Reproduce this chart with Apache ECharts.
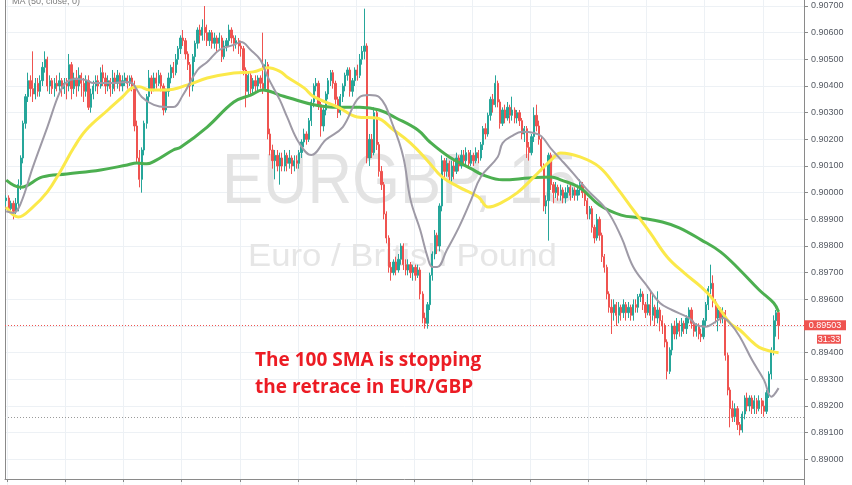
<!DOCTYPE html>
<html><head><meta charset="utf-8">
<script src="https://cdn.jsdelivr.net/npm/echarts@6/dist/echarts.min.js"></script>
<style>html,body{margin:0;padding:0;background:#fff}#c{width:852px;height:485px}</style>
</head><body><div id="c"></div>
<script>
// candles: [open, close, low, high]
const ohlc = [
[.8997,.8998,.8995,.8999],[.8998,.8994,.8993,.8999],[.8994,.8996,.8992,.8997],[.8996,.8993,.8990,.8997],[.8993,.8996,.8992,.8998],
[.8996,.9003,.8993,.9005],[.9003,.9013,.9001,.9014],[.9013,.9026,.9011,.9027],[.9026,.9036,.9024,.9037],[.9036,.9042,.9034,.9045],
[.9042,.9039,.9036,.9044],[.9039,.9037,.9034,.9053],[.9037,.9041,.9035,.9043],[.9041,.9038,.9036,.9043],[.9038,.9042,.9036,.9044],
[.9042,.9047,.9040,.9049],[.9047,.9050,.9045,.9053],[.9050,.9040,.9038,.9051],[.9040,.9042,.9037,.9044],[.9042,.9039,.9037,.9043],
[.9039,.9041,.9036,.9043],[.9041,.9040,.9038,.9044],[.9040,.9042,.9038,.9045],[.9042,.9039,.9036,.9043],[.9039,.9041,.9037,.9043],
[.9041,.9040,.9035,.9043],[.9040,.9048,.9038,.9052],[.9048,.9039,.9035,.9049],[.9039,.9043,.9037,.9045],[.9043,.9040,.9036,.9046],
[.9040,.9044,.9038,.9047],[.9044,.9041,.9036,.9045],[.9041,.9038,.9034,.9043],[.9038,.9042,.9036,.9044],[.9042,.9032,.9031,.9044],
[.9032,.9037,.9030,.9039],[.9037,.9040,.9035,.9042],[.9040,.9042,.9038,.9044],[.9042,.9040,.9037,.9044],[.9040,.9045,.9039,.9047],
[.9045,.9043,.9040,.9048],[.9043,.9040,.9037,.9045],[.9040,.9042,.9038,.9044],[.9042,.9039,.9036,.9043],[.9039,.9043,.9037,.9046],
[.9043,.9041,.9038,.9045],[.9041,.9044,.9039,.9046],[.9044,.9040,.9038,.9045],[.9040,.9042,.9038,.9044],[.9042,.9043,.9040,.9045],
[.9043,.9041,.9039,.9044],[.9041,.9043,.9040,.9044],[.9043,.9040,.9038,.9044],[.9040,.9025,.9023,.9042],[.9025,.9013,.9011,.9027],
[.9013,.9005,.9002,.9016],[.9005,.9016,.9000,.9017],[.9016,.9026,.9014,.9027],[.9026,.9036,.9024,.9037],[.9036,.9043,.9034,.9046],
[.9043,.9039,.9037,.9044],[.9039,.9043,.9038,.9045],[.9043,.9041,.9039,.9045],[.9041,.9044,.9040,.9046],[.9044,.9040,.9038,.9045],
[.9040,.9031,.9029,.9041],[.9031,.9038,.9030,.9039],[.9038,.9043,.9036,.9045],[.9043,.9047,.9041,.9048],[.9047,.9045,.9043,.9049],
[.9045,.9050,.9044,.9052],[.9050,.9054,.9048,.9055],[.9054,.9058,.9052,.9059],[.9058,.9057,.9055,.9061],[.9057,.9052,.9050,.9058],
[.9052,.9048,.9046,.9053],[.9048,.9040,.9036,.9049],[.9040,.9051,.9038,.9052],[.9051,.9056,.9049,.9057],[.9056,.9061,.9054,.9062],
[.9061,.9059,.9056,.9063],[.9059,.9062,.9057,.9065],[.9062,.9060,.9057,.9070],[.9060,.9057,.9055,.9063],[.9057,.9060,.9055,.9061],
[.9060,.9056,.9054,.9061],[.9056,.9058,.9054,.9060],[.9058,.9056,.9053,.9059],[.9056,.9058,.9054,.9060],[.9058,.9051,.9049,.9059],
[.9051,.9055,.9050,.9057],[.9055,.9057,.9053,.9058],[.9057,.9061,.9055,.9063],[.9061,.9058,.9056,.9062],[.9058,.9056,.9053,.9059],
[.9056,.9057,.9054,.9059],[.9057,.9055,.9052,.9058],[.9055,.9054,.9051,.9057],[.9054,.9046,.9044,.9055],[.9046,.9038,.9032,.9047],
[.9038,.9044,.9036,.9045],[.9044,.9039,.9037,.9045],[.9039,.9042,.9037,.9043],[.9042,.9040,.9038,.9044],[.9040,.9043,.9038,.9044],
[.9043,.9041,.9039,.9044],[.9041,.9039,.9037,.9060],[.9039,.9048,.9038,.9050],[.9048,.9022,.9020,.9049],[.9022,.9016,.9014,.9024],
[.9016,.9012,.9009,.9018],[.9012,.9014,.9005,.9016],[.9014,.9010,.9008,.9016],[.9010,.9013,.9003,.9015],[.9013,.9010,.9008,.9015],
[.9010,.9014,.9008,.9016],[.9014,.9011,.9008,.9015],[.9011,.9013,.9009,.9016],[.9013,.9010,.9007,.9014],[.9010,.9012,.9008,.9014],
[.9012,.9011,.9009,.9014],[.9011,.9015,.9009,.9016],[.9015,.9019,.9013,.9020],[.9019,.9022,.9017,.9024],[.9022,.9020,.9018,.9023],
[.9020,.9027,.9019,.9028],[.9027,.9034,.9025,.9035],[.9034,.9040,.9032,.9041],[.9040,.9041,.9038,.9043],[.9041,.9033,.9031,.9042],
[.9033,.9025,.9021,.9034],[.9025,.9031,.9023,.9032],[.9031,.9037,.9029,.9038],[.9037,.9042,.9035,.9043],[.9042,.9045,.9040,.9046],
[.9045,.9041,.9039,.9046],[.9041,.9035,.9033,.9042],[.9035,.9030,.9028,.9036],[.9030,.9036,.9029,.9037],[.9036,.9040,.9034,.9041],
[.9040,.9044,.9038,.9045],[.9044,.9046,.9042,.9047],[.9046,.9038,.9036,.9047],[.9038,.9042,.9036,.9043],[.9042,.9046,.9040,.9047],
[.9046,.9044,.9042,.9048],[.9044,.9050,.9043,.9052],[.9050,.9053,.9048,.9055],[.9053,.9055,.9050,.9069],[.9055,.9013,.9011,.9056],
[.9013,.9020,.9010,.9022],[.9020,.9015,.9013,.9022],[.9015,.9030,.9014,.9032],[.9030,.9018,.9016,.9031],[.9018,.9008,.9006,.9019],
[.9008,.9003,.9001,.9010],[.9003,.8992,.8990,.9004],[.8992,.8983,.8981,.8993],[.8983,.8972,.8970,.8984],[.8972,.8970,.8967,.8974],
[.8970,.8974,.8969,.8975],[.8974,.8971,.8969,.8976],[.8971,.8975,.8970,.8977],[.8975,.8980,.8973,.8981],[.8980,.8973,.8971,.8981],
[.8973,.8971,.8969,.8975],[.8971,.8973,.8969,.8975],[.8973,.8970,.8968,.8974],[.8970,.8972,.8967,.8973],[.8972,.8969,.8967,.8973],
[.8969,.8971,.8968,.8973],[.8971,.8962,.8960,.8972],[.8962,.8953,.8951,.8963],[.8953,.8951,.8949,.8955],[.8951,.8958,.8949,.8959],
[.8958,.8969,.8956,.8970],[.8969,.8977,.8967,.8978],[.8977,.8984,.8975,.8986],[.8984,.8980,.8977,.8985],[.8980,.8995,.8978,.8996],
[.8995,.9012,.8993,.9014],[.9012,.9008,.9005,.9013],[.9008,.9011,.9006,.9013],[.9011,.9006,.9004,.9012],[.9006,.9010,.9004,.9012],
[.9010,.9008,.9005,.9012],[.9008,.9013,.9007,.9015],[.9013,.9010,.9008,.9014],[.9010,.9014,.9009,.9016],[.9014,.9012,.9010,.9016],
[.9012,.9015,.9010,.9017],[.9015,.9011,.9009,.9016],[.9011,.9014,.9010,.9016],[.9014,.9012,.9010,.9015],[.9012,.9015,.9011,.9017],
[.9015,.9013,.9011,.9016],[.9013,.9018,.9012,.9019],[.9018,.9024,.9016,.9025],[.9024,.9022,.9020,.9026],[.9022,.9029,.9021,.9030],
[.9029,.9035,.9027,.9036],[.9035,.9033,.9030,.9037],[.9033,.9041,.9032,.9044],[.9041,.9034,.9032,.9042],[.9034,.9026,.9024,.9035],
[.9026,.9031,.9025,.9032],[.9031,.9028,.9026,.9033],[.9028,.9032,.9027,.9034],[.9032,.9029,.9026,.9033],[.9029,.9031,.9027,.9036],
[.9031,.9028,.9026,.9032],[.9028,.9030,.9026,.9031],[.9030,.9027,.9025,.9031],[.9027,.9022,.9020,.9028],[.9022,.9024,.9019,.9025],
[.9024,.9017,.9013,.9025],[.9017,.9015,.9012,.9019],[.9015,.9021,.9014,.9022],[.9021,.9029,.9019,.9032],[.9029,.9025,.9023,.9033],
[.9025,.9020,.9018,.9027],[.9020,.9010,.9008,.9021],[.9010,.8995,.8993,.9011],[.8995,.8997,.8992,.8999],[.8997,.9014,.8982,.9015],
[.9014,.9003,.9001,.9015],[.9003,.9000,.8996,.9004],[.9000,.9002,.8998,.9004],[.9002,.8999,.8997,.9003],[.8999,.9001,.8997,.9003],
[.9001,.8998,.8996,.9002],[.8998,.9000,.8996,.9002],[.9000,.9002,.8998,.9003],[.9002,.8999,.8997,.9003],[.8999,.9001,.8998,.9002],
[.9001,.8999,.8997,.9002],[.8999,.9001,.8997,.9003],[.9001,.9003,.8999,.9005],[.9003,.9000,.8998,.9004],[.9000,.8997,.8995,.9001],
[.8997,.8992,.8990,.8998],[.8992,.8994,.8990,.8995],[.8994,.8987,.8985,.8995],[.8987,.8983,.8981,.8988],[.8983,.8990,.8982,.8992],
[.8990,.8984,.8982,.8991],[.8984,.8976,.8974,.8985],[.8976,.8972,.8970,.8977],[.8972,.8962,.8960,.8973],[.8962,.8957,.8955,.8963],
[.8957,.8955,.8947,.8960],[.8955,.8958,.8952,.8960],[.8958,.8954,.8950,.8959],[.8954,.8957,.8951,.8959],[.8957,.8955,.8952,.8958],
[.8955,.8958,.8953,.8960],[.8958,.8955,.8952,.8959],[.8955,.8957,.8953,.8959],[.8957,.8954,.8952,.8958],[.8954,.8958,.8952,.8960],
[.8958,.8957,.8955,.8960],[.8957,.8961,.8955,.8962],[.8961,.8962,.8959,.8964],[.8962,.8958,.8956,.8963],[.8958,.8955,.8953,.8959],
[.8955,.8958,.8954,.8962],[.8958,.8954,.8950,.8963],[.8954,.8957,.8952,.8962],[.8957,.8953,.8950,.8958],[.8953,.8956,.8951,.8963],
[.8956,.8952,.8948,.8957],[.8952,.8950,.8947,.8954],[.8950,.8944,.8942,.8951],[.8944,.8933,.8930,.8945],[.8933,.8941,.8932,.8942],
[.8941,.8950,.8939,.8951],[.8950,.8947,.8945,.8952],[.8947,.8951,.8945,.8953],[.8951,.8948,.8946,.8952],[.8948,.8951,.8946,.8953],
[.8951,.8949,.8947,.8952],[.8949,.8953,.8947,.8954],[.8953,.8956,.8951,.8957],[.8956,.8951,.8949,.8957],[.8951,.8948,.8946,.8952],
[.8948,.8950,.8946,.8951],[.8950,.8947,.8945,.8951],[.8947,.8946,.8944,.8949],[.8946,.8952,.8945,.8953],[.8952,.8958,.8950,.8959],
[.8958,.8964,.8956,.8965],[.8964,.8966,.8962,.8973],[.8966,.8959,.8957,.8969],[.8959,.8953,.8951,.8960],[.8953,.8956,.8948,.8957],
[.8956,.8953,.8951,.8957],[.8953,.8955,.8951,.8957],[.8955,.8939,.8937,.8956],[.8939,.8926,.8924,.8940],[.8926,.8919,.8912,.8927],
[.8919,.8916,.8914,.8922],[.8916,.8919,.8914,.8921],[.8919,.8913,.8911,.8920],[.8913,.8911,.8909,.8914],[.8911,.8917,.8910,.8918],
[.8917,.8923,.8915,.8924],[.8923,.8920,.8918,.8925],[.8920,.8923,.8918,.8924],[.8923,.8919,.8917,.8924],[.8919,.8922,.8917,.8924],
[.8922,.8919,.8917,.8923],[.8919,.8922,.8918,.8924],[.8922,.8920,.8917,.8923],[.8920,.8918,.8916,.8922],[.8918,.8925,.8917,.8926],
[.8925,.8932,.8923,.8933],[.8932,.8941,.8930,.8942],[.8941,.8952,.8939,.8954],[.8952,.8955,.8946,.8956],[.8955,.89503,.8945,.8956]
];
const slotCount = 330; // 15-minute slots on the time axis (last ones empty)

// moving averages: [slot index, value]
const maShort = [[0,.8993],[3,.89924],[6,.8996],[11,.90096],[17,.90246],[22,.90374],[25,.90415],[29,.90426],[33,.90422],[36,.90411],
[43,.90411],[50,.90415],[52,.90411],[56,.90359],[61,.90329],[66,.90321],[69,.90321],[73,.90366],[79,.9046],[83,.9049],
[88,.90535],[94,.90554],[97,.90565],[101,.90535],[105,.90498],[108,.90434],[113,.90348],[116,.90284],[121,.90186],[126,.90141],
[132,.90198],[139,.90246],[146,.90359],[150,.90366],[154,.90359],[160,.90246],[164,.90134],[167,.89973],[171,.8986],[174,.89759],
[176,.89721],[178,.89721],[182,.89785],[187,.89871],[192,.89973],[196,.90059],[203,.90134],[205,.90186],[209,.90213],[213,.90228],
[218,.90224],[221,.90212],[225,.90165],[229,.90125],[234,.90074],[240,.9001],[248,.89935],[254,.89834],[259,.89721],[265,.89646],
[270,.89586],[275,.8956],[282,.8953],[285,.89504],[289,.89497],[292,.8951],[296,.8953],[299,.8951],[303,.8946],[308,.89373],
[313,.89297],[316,.89235],[319,.89267]];
const ma50 = [[0,.89946],[5,.89909],[11,.89946],[17,.90003],[22,.90074],[28,.9017],[33,.90235],[42,.9031],[48,.90359],[52,.90393],
[55,.90397],[59,.90385],[66,.90385],[75,.90404],[83,.9043],[94,.90449],[102,.90453],[108,.90468],[113,.90455],[116,.90434],
[123,.90393],[127,.9036],[137,.90321],[145,.90284],[153,.9028],[160,.90235],[167,.90186],[174,.9012],[180,.90059],[187,.90021],
[195,.89984],[199,.89946],[204,.8996],[211,.89999],[218,.90059],[225,.90122],[229,.90149],[237,.90134],[245,.90096],[252,.90021],
[259,.89935],[266,.89849],[273,.89759],[280,.89699],[287,.89647],[291,.8961],[295,.8956],[299,.8951],[303,.89485],[307,.8945],
[311,.8942],[316,.89405],[319,.894]];
const ma100 = [[0,.90047],[6,.9002],[15,.90059],[25,.9007],[39,.90085],[50,.90104],[54,.90111],[58,.90108],[62,.90122],[69,.9016],
[72,.9017],[83,.90246],[94,.9034],[101,.90366],[106,.90385],[113,.90366],[117,.90355],[127,.9033],[137,.9032],[146,.9032],
[154,.9031],[161,.9028],[170,.90235],[175,.9019],[183,.90134],[192,.9009],[197,.90066],[205,.90048],[216,.90055],[225,.90059],
[229,.90048],[237,.90018],[245,.89954],[254,.89916],[262,.89905],[271,.8989],[278,.89868],[287,.89823],[295,.89778],[303,.8971],
[311,.89635],[317,.89586],[319,.89553]];

const lastPrice = 0.89503;
const refLevel = 0.89158;
const countdown = '31:33';
const yMin = 0.889, yMax = 0.908, yStep = 0.001;
const labelMin = 0.8895, labelMax = 0.9075; // labels that fall inside the visible window
const headerText = 'MA (50, close, 0)';
const watermark = 'EURGBP, 15';
const subtitle = 'Euro / British Pound';
const noteLines = ['The 100 SMA is stopping', 'the retrace in EUR/GBP'];

const cats = Array.from({length: slotCount}, (_, i) => String(i));
const gridColor = '#edf1f5';
const axisColor = '#8a8a8a';
const up = '#26a69a', down = '#ef5350';

const chart = echarts.init(document.getElementById('c'), null, {renderer: 'canvas'});
const option = {
  animation: false,
  backgroundColor: '#ffffff',
  grid: [
    {left: 5, right: 48, top: -20.665, height: 506.65, outerBoundsMode: 'none', containLabel: false},
    {left: 5, right: 48, top: 0, height: 479, outerBoundsMode: 'none', containLabel: false}
  ],
  xAxis: [
    {type: 'category', gridIndex: 0, data: cats, boundaryGap: true,
     axisLine: {show: false}, axisTick: {show: false}, axisLabel: {show: false},
     splitLine: {show: true, interval: (i) => i % 24 === 1, lineStyle: {color: gridColor, width: 1}}},
    {type: 'category', gridIndex: 1, data: cats, boundaryGap: true,
     axisLine: {show: true, onZero: false, lineStyle: {color: axisColor}},
     axisTick: {show: true, length: 3, interval: (i) => i % 24 === 1, lineStyle: {color: axisColor}},
     axisLabel: {show: false}, splitLine: {show: false}}
  ],
  yAxis: [
    {type: 'value', gridIndex: 0, position: 'right', min: yMin, max: yMax, interval: yStep,
     axisLine: {show: true, lineStyle: {color: axisColor}},
     axisTick: {show: true, length: 4, lineStyle: {color: axisColor}},
     axisLabel: {margin: 7, color: '#555a63', fontSize: 9, fontFamily: 'Liberation Sans',
                 formatter: (v) => (v < labelMin || v > labelMax) ? '' : v.toFixed(5)},
     splitLine: {show: true, lineStyle: {color: gridColor, width: 1}}},
    {type: 'value', gridIndex: 1, position: 'left', min: 0, max: 1,
     axisLine: {show: true, onZero: false, lineStyle: {color: axisColor}},
     axisTick: {show: false}, axisLabel: {show: false}, splitLine: {show: false}}
  ],
  series: [
    {type: 'candlestick', xAxisIndex: 0, yAxisIndex: 0, data: ohlc, barWidth: '72%', z: 3,
     itemStyle: {color: up, color0: down, borderColor: up, borderColor0: down, borderWidth: 1}},
    {type: 'line', name: 'MA100', xAxisIndex: 0, yAxisIndex: 0, data: ma100, smooth: 0.4, showSymbol: false, z: 5,
     lineStyle: {color: '#4caf50', width: 3},
     markLine: {symbol: ['none', 'none'], silent: true, precision: 5, label: {show: false}, animation: false, z: 2,
       data: [
         {yAxis: lastPrice, lineStyle: {color: '#ef5350', type: [1, 2], width: 1}},
         {yAxis: refLevel, lineStyle: {color: '#9a9a9a', type: [1, 2], width: 1}}
       ]}},
    {type: 'line', name: 'MA50', xAxisIndex: 0, yAxisIndex: 0, data: ma50, smooth: 0.4, showSymbol: false, z: 5,
     lineStyle: {color: '#fbe94a', width: 3}},
    {type: 'line', name: 'MAshort', xAxisIndex: 0, yAxisIndex: 0, data: maShort, smooth: 0.4, showSymbol: false, z: 6,
     lineStyle: {color: '#9e9aa6', width: 2}}
  ]
};
chart.setOption(option);

const yLast = chart.convertToPixel({yAxisIndex: 0}, lastPrice);
chart.setOption({
  graphic: [
    {type: 'text', x: 222, y: 183.4, scaleX: 0.868, z: 1, silent: true,
     style: {x: 0, y: 0, text: watermark, fontSize: 71, fontFamily: 'Liberation Sans',
             fill: '#e3e3e3', verticalAlign: 'middle', align: 'left'}},
    {type: 'text', x: 248, y: 257.3, scaleX: 1.12, z: 1, silent: true,
     style: {x: 0, y: 0, text: subtitle, fontSize: 31, fontFamily: 'Liberation Sans',
             fill: '#e6e6e6', verticalAlign: 'middle', align: 'left'}},
    {type: 'text', x: 12, y: 1.9, z: 10, silent: true,
     style: {text: headerText, fontSize: 9, fontFamily: 'Liberation Sans', fill: '#7d7d7d',
             verticalAlign: 'middle', align: 'left'}},
    {type: 'text', x: 255, y: 361, z: 10, silent: true,
     style: {text: noteLines[0], fontSize: 19, fontWeight: 'bold', fontFamily: 'Open Sans',
             fill: '#ec1c24', verticalAlign: 'middle', align: 'left'}},
    {type: 'text', x: 255, y: 387.6, z: 10, silent: true,
     style: {text: noteLines[1], fontSize: 19, fontWeight: 'bold', fontFamily: 'Open Sans',
             fill: '#ec1c24', verticalAlign: 'middle', align: 'left'}},
    {type: 'rect', z: 20, silent: true, shape: {x: 804, y: yLast - 5, width: 42, height: 10},
     style: {fill: '#ef5350'}},
    {type: 'text', z: 21, silent: true, x: 825, y: yLast,
     style: {text: lastPrice.toFixed(5), fontSize: 9, fontFamily: 'Liberation Sans', fill: '#ffffff',
             align: 'center', verticalAlign: 'middle'}},
    {type: 'rect', z: 20, silent: true, shape: {x: 817, y: yLast + 9.5, width: 24, height: 9},
     style: {fill: '#ef5350'}},
    {type: 'text', z: 21, silent: true, x: 829, y: yLast + 14,
     style: {text: countdown, fontSize: 9, fontFamily: 'Liberation Sans', fill: '#ffffff',
             align: 'center', verticalAlign: 'middle'}}
  ]
});
</script></body></html>
